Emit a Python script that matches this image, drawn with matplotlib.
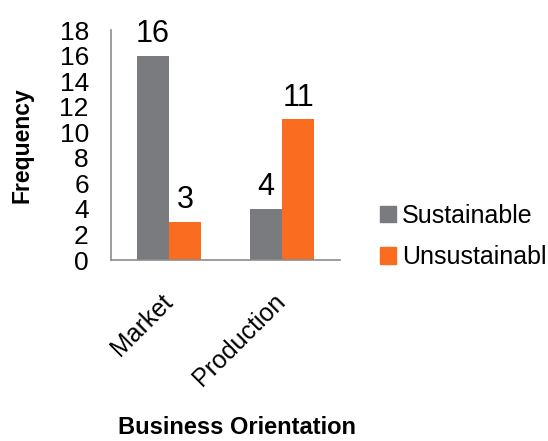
import matplotlib.pyplot as plt
import matplotlib.transforms as mtransforms
from matplotlib.patches import Patch

# data
categories = ['Market', 'Production']
sustainable = [16, 4]
unsustainable = [3, 11]
series_names = ['Sustainable', 'Unsustainabl']

gray = '#7a7b7e'
orange = '#fa6c1f'

plt.rcParams['font.family'] = ['Liberation Sans', 'DejaVu Sans']

fig = plt.figure(figsize=(5.48, 4.41), dpi=100)
ax = fig.add_axes([111 / 548, 1 - 260 / 441, 229 / 548, 230 / 441])

x = range(len(categories))
w = 0.283
b1 = ax.bar([i - w / 2 for i in x], sustainable, width=w, color=gray)
b2 = ax.bar([i + w / 2 for i in x], unsustainable, width=w, color=orange)

for bars in (b1, b2):
    for rect in bars:
        h = rect.get_height()
        ax.annotate(f'{h:g}', (rect.get_x() + rect.get_width() / 2, h),
                    xytext=(0, 5), textcoords='offset points',
                    ha='center', va='bottom', fontsize=22)

ax.set_xlim(-0.513, 1.513)
ax.set_ylim(0, 18)
ax.set_yticks(range(0, 19, 2))
ax.set_xticks(list(x))
ax.set_xticklabels(categories, rotation=45, ha='right', fontsize=18)
ax.tick_params(axis='x', length=0, pad=21)
ax.tick_params(axis='y', length=0, pad=16, labelsize=19)

# nudge rotated category labels to the right
shift = mtransforms.ScaledTranslation(0.08, 0, fig.dpi_scale_trans)
for lbl in ax.get_xticklabels():
    lbl.set_transform(lbl.get_transform() + shift)

for s in ('top', 'right'):
    ax.spines[s].set_visible(False)
for s in ('left', 'bottom'):
    ax.spines[s].set_color('#8c8c8c')
    ax.spines[s].set_linewidth(1.2)

fig.text(22 / 548, 1 - 145 / 441, 'Frequency', rotation=90, ha='center', va='center',
         fontsize=16.5, fontweight='bold')
fig.text(237 / 548, 1 - 428 / 441, 'Business Orientation', ha='center', va='center',
         fontsize=17, fontweight='bold')

handles = [Patch(color=gray), Patch(color=orange)]
fig.legend(handles, series_names, loc='center left', bbox_to_anchor=(380 / 548, 1 - 236.5 / 441),
           frameon=False, fontsize=18, handlelength=0.62, handleheight=0.62,
           handletextpad=0.25, labelspacing=0.7, borderpad=0, borderaxespad=0)

fig.savefig('out.png', dpi=100)
